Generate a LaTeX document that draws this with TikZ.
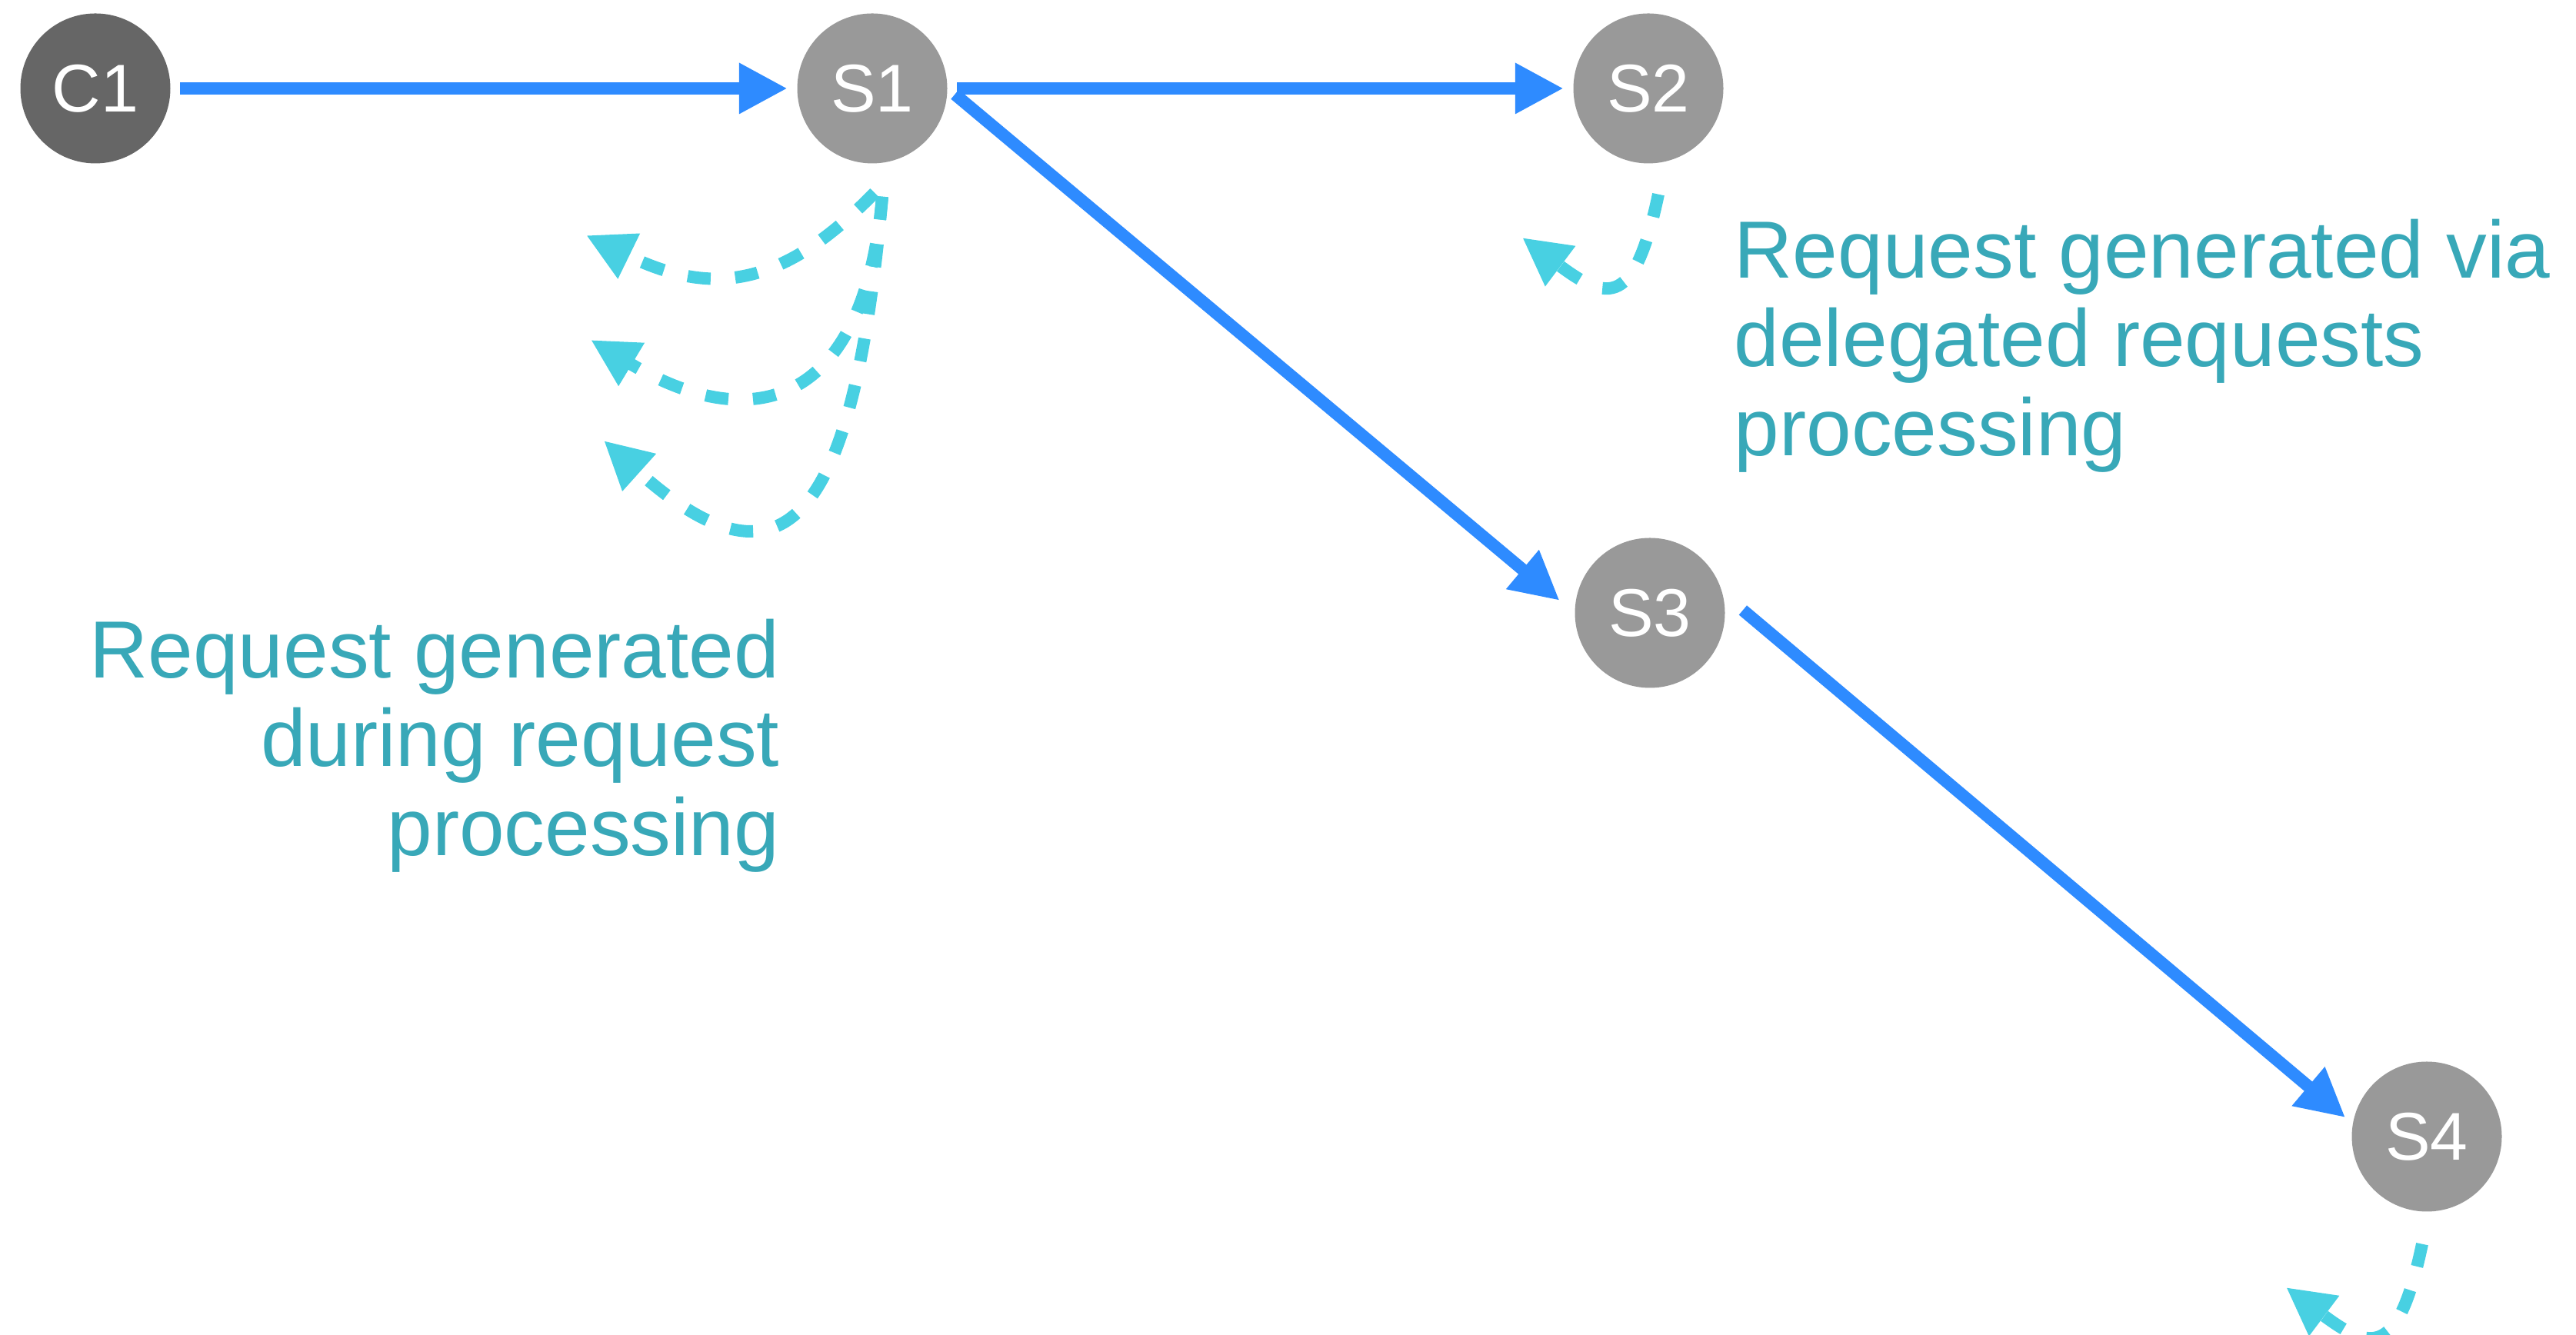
\documentclass[tikz,border=0pt]{standalone}
\usepackage{fontspec}
\setmainfont{Liberation Sans}
\usetikzlibrary{arrows.meta}
\definecolor{srvgray}{RGB}{153,153,153}
\definecolor{cligray}{RGB}{102,102,102}
\definecolor{callblue}{RGB}{46,139,255}
\definecolor{genteal}{RGB}{72,208,226}
\definecolor{noteteal}{RGB}{56,168,184}
\tikzset{
  rserver/.style={circle, fill=srvgray, text=white, minimum size=1.95cm,
                  inner sep=0pt, font=\fontsize{25}{30}\selectfont},
  rclient/.style={rserver, fill=cligray},
  rcall/.style  ={-{Triangle[length=0.63cm, width=0.62cm]}, line width=0.16cm,
                  callblue, shorten <=0.12cm, shorten >=0.12cm},
  rgen/.style   ={-{Triangle[length=0.62cm, width=0.61cm]}, line width=0.16cm,
                  genteal, dash pattern=on 0.30cm off 0.32cm},
  rnote/.style  ={text=noteteal, inner sep=0pt, font=\fontsize{30}{33}\selectfont},
}
\begin{document}
\begin{tikzpicture}
  \useasboundingbox (0,0) rectangle (33.49,17.36);
  \node[rclient] (C1) at (1.24,16.21) {C1};
  \node[rserver] (S1) at (11.34,16.21) {S1};
  \node[rserver] (S2) at (21.43,16.21) {S2};
  \node[rserver] (S3) at (21.45,9.39) {S3};
  \node[rserver] (S4) at (31.55,2.58) {S4};
  % calls
  \draw[rcall] (C1) -- (S1);
  \draw[rcall] (S1) -- (S2);
  \draw[rcall, shorten >=0.25cm] (S1.east) -- (S3.west);
  \draw[rcall, shorten <=0.34cm] (S3.15) -- (S4.170);
  % generated requests
  \coordinate (g1) at (7.62,14.30);
  \coordinate (g2) at (7.68,12.94);
  \coordinate (g3) at (7.85,11.63);
  \coordinate (g4) at (19.79,14.27);
  \coordinate (g5) at (29.72,0.62);
  \draw[rgen] ([xshift=0.03cm, yshift=-0.375cm]S1.south)
    .. controls (10.13,13.58) and (9.22,13.52) .. (g1);
  \draw[rgen] ([xshift=0.13cm, yshift=-0.425cm]S1.south)
    .. controls (11.23,12.02) and (9.74,11.70) .. (g2);
  \draw[rgen] ([xshift=0.13cm, yshift=-0.425cm]S1.south)
    .. controls (11.10,10.63) and (10.23,9.49) .. (g3);
  \draw[rgen] ([xshift=0.13cm, yshift=-0.395cm]S2.south)
    .. controls (21.25,13.37) and (20.91,13.43) .. (g4);
  \draw[rgen] ([xshift=-0.06cm, yshift=-0.415cm]S4.south)
    .. controls (31.18,-0.28) and (30.84,-0.22) .. (g5);
  % notes (anchored at the baseline of the last line)
  \node[rnote, align=right, anchor=base east] (note1) at (10.14,6.23)
    {Request generated\\during request\\processing};
  \node[rnote, align=left, anchor=base west] (note2) at (22.54,11.43)
    {Request generated via\\delegated requests\\processing};
\end{tikzpicture}
\end{document}
